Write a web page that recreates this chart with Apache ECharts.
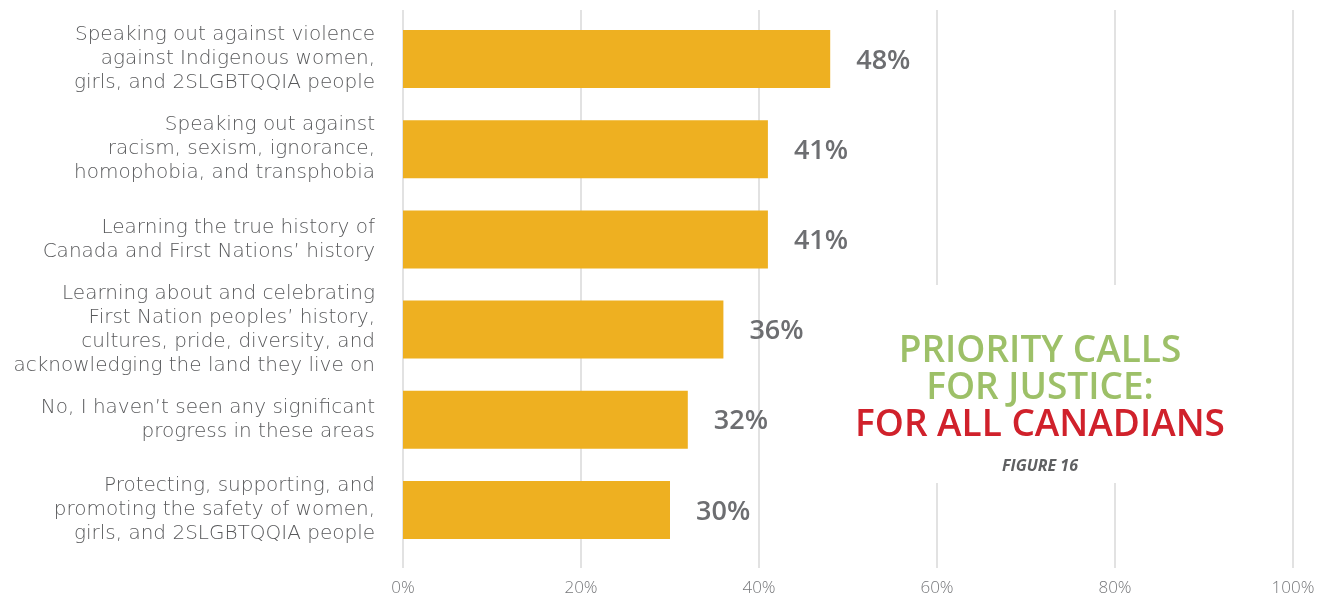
<!DOCTYPE html>
<html>
<head>
<meta charset="utf-8">
<title>Priority Calls for Justice: For All Canadians</title>
<script src="https://cdn.jsdelivr.net/npm/echarts@6/dist/echarts.min.js"></script>
<style>
  html, body { margin: 0; padding: 0; background: #ffffff; }
  #chart { width: 1336px; height: 597px; }
</style>
</head>
<body>
<div id="chart"></div>
<script>
// Survey responses, listed top to bottom
const categories = [
  'Speaking out against violence\nagainst Indigenous women,\ngirls, and 2SLGBTQQIA people',
  'Speaking out against\nracism, sexism, ignorance,\nhomophobia, and transphobia',
  'Learning the true history of\nCanada and First Nations\u2019 history',
  'Learning about and celebrating\nFirst Nation peoples\u2019 history,\ncultures, pride, diversity, and\nacknowledging the land they live on',
  'No, I haven\u2019t seen any significant\nprogress in these areas',
  'Protecting, supporting, and\npromoting the safety of women,\ngirls, and 2SLGBTQQIA people'
];
const values = [48, 41, 41, 36, 32, 30];
const xTicks = [0, 20, 40, 60, 80, 100];

const titleLines = ['PRIORITY CALLS', 'FOR JUSTICE:', 'FOR ALL CANADIANS'];
const figureLabel = 'FIGURE 16';

const FONT = "'Open Sans', 'Noto Sans', sans-serif";
const LABEL_FONT = "'DejaVu Sans', 'Open Sans', sans-serif";
const chart = echarts.init(document.getElementById('chart'));

chart.setOption({
  backgroundColor: '#ffffff',
  animation: false,
  grid: [
    { left: 403, right: 43, top: 14, bottom: 42 },   // bars
    { left: 403, right: 43, top: 10, bottom: 29 }    // taller vertical gridlines
  ],
  xAxis: [
    {
      type: 'value', gridIndex: 0,
      min: xTicks[0], max: xTicks[xTicks.length - 1], interval: 20,
      axisLine: { show: false }, axisTick: { show: false },
      splitLine: { show: false },
      axisLabel: {
        formatter: '{value}%', fontFamily: FONT, fontSize: 17, fontWeight: 300,
        color: '#77787b', margin: 25
      }
    },
    {
      type: 'value', gridIndex: 1,
      min: xTicks[0], max: xTicks[xTicks.length - 1], interval: 20,
      axisLine: { show: false }, axisTick: { show: false }, axisLabel: { show: false },
      splitLine: { show: true, lineStyle: { color: '#d9d9d9', width: 1.5 } }
    }
  ],
  yAxis: [
    {
      type: 'category', gridIndex: 0, data: categories, inverse: true,
      axisLine: { show: false }, axisTick: { show: false },
      axisLabel: {
        fontFamily: LABEL_FONT, fontSize: 20, fontWeight: 200, lineHeight: 24,
        color: '#58595b', margin: 28, align: 'right'
      }
    },
    { type: 'value', gridIndex: 1, show: false }
  ],
  series: [{
    type: 'bar', xAxisIndex: 0, yAxisIndex: 0,
    data: values, barWidth: 58,
    itemStyle: { color: '#eeb021' },
    label: {
      show: true, position: 'right', distance: 26, offset: [0, 2],
      formatter: '{c}%', fontFamily: FONT, fontSize: 27, fontWeight: 600,
      color: '#6d6e71'
    },
    z: 3
  }],
  graphic: [
    { type: 'rect', z: 50, shape: { x: 846, y: 285, width: 388, height: 198 }, style: { fill: '#ffffff' } },
    { type: 'text', z: 60, x: 1040, y: 351, style: { text: titleLines[0], fill: '#9dc068', font: "600 37px 'Open Sans'", align: 'center', verticalAlign: 'middle' } },
    { type: 'text', z: 60, x: 1040, y: 388, style: { text: titleLines[1], fill: '#9dc068', font: "600 37px 'Open Sans'", align: 'center', verticalAlign: 'middle' } },
    { type: 'text', z: 60, x: 1040, y: 425, style: { text: titleLines[2], fill: '#d0212b', font: "600 37px 'Open Sans'", align: 'center', verticalAlign: 'middle' } },
    { type: 'text', z: 60, x: 1040, y: 466, style: { text: figureLabel, fill: '#5f6062', font: "italic 700 16px 'Open Sans'", align: 'center', verticalAlign: 'middle' } }
  ]
});
</script>
</body>
</html>
